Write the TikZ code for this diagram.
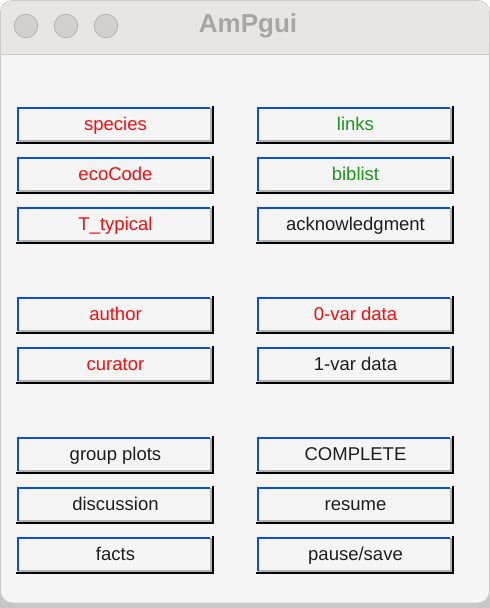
\documentclass[tikz,border=0pt]{standalone}
\usepackage{fontspec}
\setmainfont{Liberation Sans}
\definecolor{barbg}{HTML}{E7E6E5}
\definecolor{bodybg}{HTML}{F5F5F5}
\definecolor{framegray}{HTML}{CACACA}
\definecolor{dotfill}{HTML}{D1D0CF}
\definecolor{dotline}{HTML}{B6B5B4}
\definecolor{titlegray}{HTML}{A6A6A6}
\definecolor{btnblue}{HTML}{0A50DC}
\definecolor{btngray}{HTML}{B2B2B2}
\definecolor{txtred}{HTML}{FF0A0A}
\definecolor{txtgreen}{HTML}{18991A}
\definecolor{txtblack}{HTML}{1E1E1E}
\tikzset{
  btn/.style={rectangle,minimum width=197pt,minimum height=37pt,inner sep=0pt,
    text height=13pt,text depth=4pt,fill=bodybg,font=\fontsize{18.5}{22}\selectfont},
  edgeblue/.style={draw=btnblue,line width=1.6pt},
  edgegray/.style={draw=btngray,line width=2pt},
  edgeblack/.style={draw=black,line width=2.5pt},
  dot/.style={circle,minimum size=23.5pt,inner sep=0pt,fill=dotfill,draw=dotline,line width=0.8pt}
}
% one button: name, left, top, colour, text
\newcommand{\ampbtn}[5]{%
  \node[btn,text=#4] (#1) at ({#2+98.5},{#3+18.5}) {#5};
  \draw[edgegray] ({#2+1.4},{#3+33.5}) -| ({#2+194},{#3+1.4});
  \draw[edgeblack] ({#2-0.8},{#3+35.8}) -| ({#2+195.8},{#3-0.8});
  \draw[edgeblue] ({#2+0.8},{#3+34.4}) |- ({#2+193.2},{#3+0.8});
}
\begin{document}
\begin{tikzpicture}[x=1pt,y=-1pt]
    \useasboundingbox (0,0) rectangle (490,608);
    %window
    \fill[white] (0,0) rectangle (490,608);
    \fill[black!22] (0,590) rectangle (490,608);
    \fill[bodybg,draw=framegray,line width=0.8pt,rounded corners=12pt] (0.4,0.4) rectangle (489.6,603);
    \fill[barbg,rounded corners=12pt] (0.8,0.8) -- (0.8,54) -- (489.2,54) -- (489.2,0.8) -- cycle;
    \fill[barbg] (0.8,30) rectangle (489.2,54);
    \draw[framegray,line width=1.2pt] (0.4,54.6) -- (489.6,54.6);

    %title bar
    \node[dot] (close) at (26,26) {};
    \node[dot] (minimize) at (66,26) {};
    \node[dot] (zoom) at (106,26) {};
    \node[text=titlegray,font=\bfseries\fontsize{26}{30}\selectfont] (title) at (248,26) {AmPgui};

    %left column
    \ampbtn{species}{17}{107}{txtred}{species}
    \ampbtn{ecocode}{17}{157}{txtred}{ecoCode}
    \ampbtn{ttypical}{17}{207}{txtred}{T\_typical}
    \ampbtn{author}{17}{297}{txtred}{author}
    \ampbtn{curator}{17}{347}{txtred}{curator}
    \ampbtn{groupplots}{17}{437}{txtblack}{group plots}
    \ampbtn{discussion}{17}{487}{txtblack}{discussion}
    \ampbtn{facts}{17}{537}{txtblack}{facts}

    %right column
    \ampbtn{links}{257}{107}{txtgreen}{links}
    \ampbtn{biblist}{257}{157}{txtgreen}{biblist}
    \ampbtn{acknowledgment}{257}{207}{txtblack}{acknowledgment}
    \ampbtn{zerovar}{257}{297}{txtred}{0-var data}
    \ampbtn{onevar}{257}{347}{txtblack}{1-var data}
    \ampbtn{complete}{257}{437}{txtblack}{COMPLETE}
    \ampbtn{resume}{257}{487}{txtblack}{resume}
    \ampbtn{pausesave}{257}{537}{txtblack}{pause/save}
\end{tikzpicture}
\end{document}
